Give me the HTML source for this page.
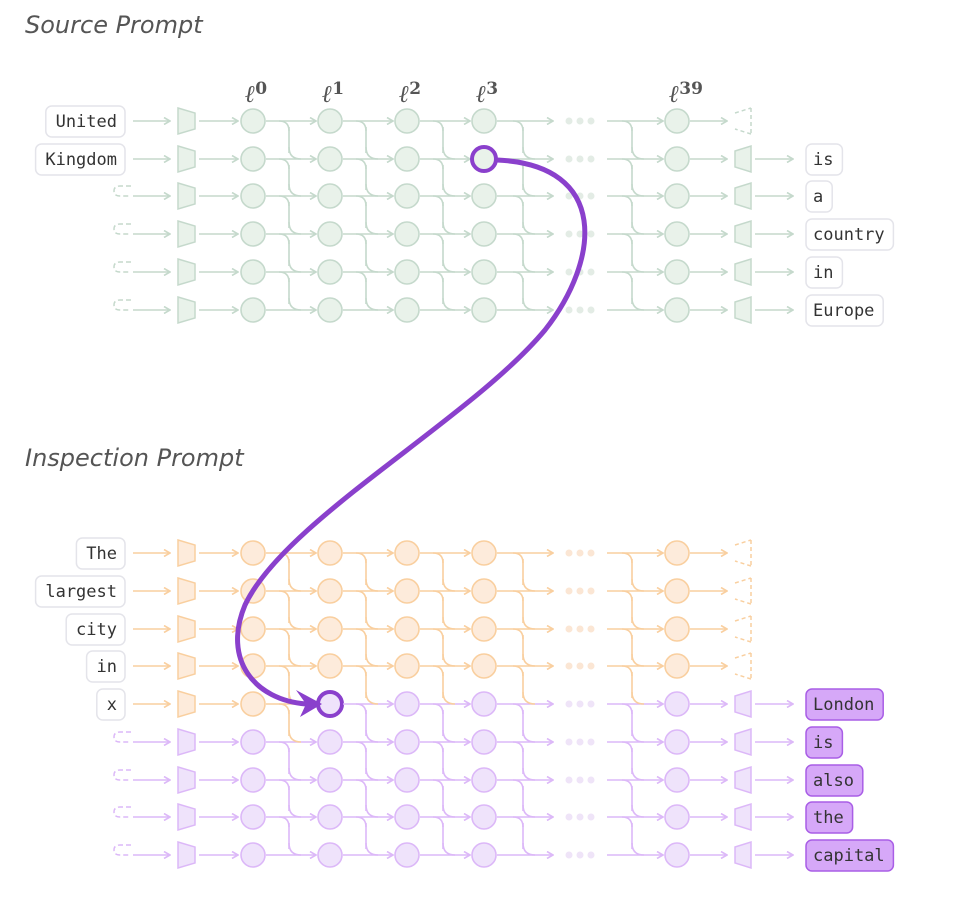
<!DOCTYPE html>
<html><head><meta charset="utf-8">
<style>
html,body{margin:0;padding:0;background:#fff;}
svg{display:block;}
.title{font-family:"DejaVu Sans","Liberation Sans",sans-serif;font-style:italic;font-size:24px;fill:#555;font-weight:300;}
.tok{font-family:"DejaVu Sans Mono","Liberation Mono",monospace;font-size:17px;fill:#333;}
.lay{font-family:"DejaVu Serif","Liberation Serif",serif;font-style:italic;font-size:24px;fill:#555;font-weight:bold;}
</style></head>
<body>
<svg id="fig" width="962" height="913" viewBox="0 0 962 913" xmlns="http://www.w3.org/2000/svg">
<defs>
<marker id="ah-g" markerWidth="8" markerHeight="8" refX="7" refY="4" orient="auto" markerUnits="userSpaceOnUse"><path d="M1,0.5 L7,4 L1,7.5" fill="none" stroke="#c5d9cc" stroke-width="1.6"/></marker>
<marker id="ah-o" markerWidth="8" markerHeight="8" refX="7" refY="4" orient="auto" markerUnits="userSpaceOnUse"><path d="M1,0.5 L7,4 L1,7.5" fill="none" stroke="#f9cf9f" stroke-width="1.6"/></marker>
<marker id="ah-p" markerWidth="8" markerHeight="8" refX="7" refY="4" orient="auto" markerUnits="userSpaceOnUse"><path d="M1,0.5 L7,4 L1,7.5" fill="none" stroke="#dcb8f8" stroke-width="1.6"/></marker>
</defs>
<text class="title" x="25" y="33">Source Prompt</text>
<text class="title" x="25" y="466">Inspection Prompt</text>
<g id="layers"></g>
<g id="top"></g>
<g id="bot"></g>
<g id="patch">
<path d="M497,160 C610,165 600,260 545,330 C470,420 285,520 245,605 C222,660 255,700 306,704" fill="none" stroke="#8a40cc" stroke-width="5" stroke-linecap="round"/>
<polygon points="296,690 322,704 300,717 306,704" fill="#8a40cc"/>
</g>
</svg>
<script>
const colX = [253, 330, 407, 484, 677];
const layerLabels = ["0", "1", "2", "3", "39"];
const topY = [121, 159, 196, 234, 272, 310];
const botY = [553, 591, 629, 666, 704, 742, 780, 817, 855];
const topInputs = ["United", "Kingdom", "", "", "", ""];
const topOutputs = ["", "is", "a", "country", "in", "Europe"];
const botInputs = ["The", "largest", "city", "in", "x", "", "", "", ""];
const botOutputs = ["", "", "", "", "London", "is", "also", "the", "capital"];

const C = {
  g:{s:"#c5d9cc",f:"#e9f2ea",m:"url(#ah-g)",d:"#e3ece5"},
  o:{s:"#f9cf9f",f:"#fdebdb",m:"url(#ah-o)",d:"#fbe6d4"},
  p:{s:"#dcb8f8",f:"#efe3fb",m:"url(#ah-p)",d:"#efe4f8"}
};
const NS="http://www.w3.org/2000/svg";
function mk(tag, attrs, parent){const e=document.createElementNS(NS,tag);for(const k in attrs)e.setAttribute(k,attrs[k]);parent.appendChild(e);return e;}

const layersG=document.getElementById('layers');
layerLabels.forEach((l,i)=>{
  const t=mk('text',{class:'lay',x:colX[i]-8,y:102},layersG);
  
  
  t.textContent='\u2113';
  const s=mk('tspan',{dy:-8,'font-size':'17','font-style':'normal'},t);
  s.textContent=l;
});

function drawBlock(g, ys, inputs, outputs, colorFn, inColorFn, outFilled, highlight){
  const n=ys.length;
  const trunkX=[colX[0]+36,colX[1]+36,colX[2]+36,colX[3]+39,colX[4]-45];
  trunkX.forEach((tx,ci)=>{
    for(let r=0;r<n-1;r++){
      const c=C[colorFn(r,ci===4?3:ci)];
      const p=mk('path',{d:`M${tx},${ys[r]+6} V${ys[r+1]-6}`,stroke:c.s,'stroke-width':1.6,fill:'none'},g);
      
      
    }
  });
  for(let r=0;r<n;r++){
    const y=ys[r];
    const ic=C[inColorFn(r)];
    if(inputs[r]){
      const w=inputs[r].length*10.2+18;
      const b=mk('rect',{x:125-w,y:y-15,width:w,height:31,rx:6,fill:'#fff',stroke:'#e4e4ea','stroke-width':1.5},g);
      
      
      const t=mk('text',{class:'tok',x:117,y:y+6,'text-anchor':'end'},g);
      
      
      t.textContent=inputs[r];
    } else {
      const d=mk('path',{d:`M131,${y-10} H120 Q114,${y-10} 114,${y-5} Q114,${y} 120,${y} H131`,fill:'none',stroke:ic.s,'stroke-width':1.5,'stroke-dasharray':'5 3'},g);
      
      
    }
    const a=mk('path',{d:`M133,${y} H170`,stroke:ic.s,'stroke-width':1.6,'marker-end':ic.m},g);
    
    
    const tz=mk('polygon',{points:`178,${y-13} 195,${y-8} 195,${y+8} 178,${y+13}`,fill:ic.f,stroke:ic.s,'stroke-width':1.5},g);
    
    
    const a2=mk('path',{d:`M199,${y} H238`,stroke:ic.s,'stroke-width':1.6,'marker-end':ic.m},g);
    
    
    for(let ci=0;ci<5;ci++){
      const x=colX[ci];
      const c=C[colorFn(r,ci)];
      const cPrev=ci>0?C[colorFn(r,ci-1)]:null;
      if(ci>0){
        let x0=colX[ci-1]+13, tx=ci===4?colX[4]-45:colX[ci-1]+36;
        if(ci===4) x0=607;
        const cc=ci===4?C[colorFn(r,3)]:cPrev;
        const ar=mk('path',{d:`M${x0},${y} H${x-14}`,stroke:cc.s,'stroke-width':1.6,fill:'none','marker-end':cc.m},g);
        
        
        if(r<n-1){
          const cv=mk('path',{d:`M${tx-10},${y} Q${tx},${y} ${tx},${y+10}`,stroke:cc.s,'stroke-width':1.6,fill:'none'},g);
          
          
        }
        if(r>0){
          const cu=C[colorFn(r-1,ci===4?3:ci-1)];
          const ci2=mk('path',{d:`M${tx},${y-12} Q${tx},${y} ${tx+12},${y}`,stroke:cu.s,'stroke-width':1.6,fill:'none'},g);
          
          
        }
      }
      const hl=highlight&&highlight[0]===r&&highlight[1]===ci;
      const nd=mk('circle',{cx:x,cy:y,r:12,fill:c.f,stroke:hl?'#8a40cc':c.s,'stroke-width':hl?4:1.6},g);
      
      
    }
    const c3=C[colorFn(r,3)];
    const ad=mk('path',{d:`M${colX[3]+13},${y} H553`,stroke:c3.s,'stroke-width':1.6,fill:'none','marker-end':c3.m},g);
    
    
    if(r<n-1){
      const tx=colX[3]+39;
      const cv=mk('path',{d:`M${tx-10},${y} Q${tx},${y} ${tx},${y+10}`,stroke:c3.s,'stroke-width':1.6,fill:'none'},g);
      
      
    }
    if(r>0){
      const tx=colX[3]+39;
      const cu=C[colorFn(r-1,3)];
      const cc=mk('path',{d:`M${tx},${y-12} Q${tx},${y} ${tx+12},${y}`,stroke:cu.s,'stroke-width':1.6,fill:'none'},g);
      
      
    }
    [569,580,591].forEach(dx=>{
      const dt=mk('circle',{cx:dx,cy:y,r:3.5,fill:c3.d},g);
      
      
    });
    const oc=C[colorFn(r,4)];
    const ao=mk('path',{d:`M${colX[4]+13},${y} H727`,stroke:oc.s,'stroke-width':1.6,fill:'none','marker-end':oc.m},g);
    
    
    if(outputs[r]){
      const uz=mk('polygon',{points:`735,${y-8} 751,${y-13} 751,${y+13} 735,${y+8}`,fill:oc.f,stroke:oc.s,'stroke-width':1.5},g);
      
      
      const a3=mk('path',{d:`M755,${y} H793`,stroke:oc.s,'stroke-width':1.6,fill:'none','marker-end':oc.m},g);
      
      
      const w=outputs[r].length*10.2+16;
      const b=mk('rect',{x:806,y:y-15,width:w,height:31,rx:6,fill:outFilled?'#d6a8f8':'#fff',stroke:outFilled?'#a95ee6':'#e4e4ea','stroke-width':1.5},g);
      
      
      const t=mk('text',{class:'tok',x:813,y:y+6},g);
      
      
      t.textContent=outputs[r];
    } else {
      const dz=mk('path',{d:`M735,${y-8} L751,${y-13} M751,${y-13} V${y+13} M751,${y+13} L735,${y+8}`,fill:'none',stroke:oc.s,'stroke-width':1.5,'stroke-dasharray':'4 3'},g);
      
      
    }
  }
}
const topG=document.getElementById('top');


drawBlock(topG, topY, topInputs, topOutputs, ()=> 'g', ()=> 'g', false, [1,3]);
const botG=document.getElementById('bot');


drawBlock(botG, botY, botInputs, botOutputs,
  (r,c)=> (r<4||(r===4&&c===0))?'o':'p',
  r=> r<=4?'o':'p', true, [4,1]);
</script>
</body></html>
